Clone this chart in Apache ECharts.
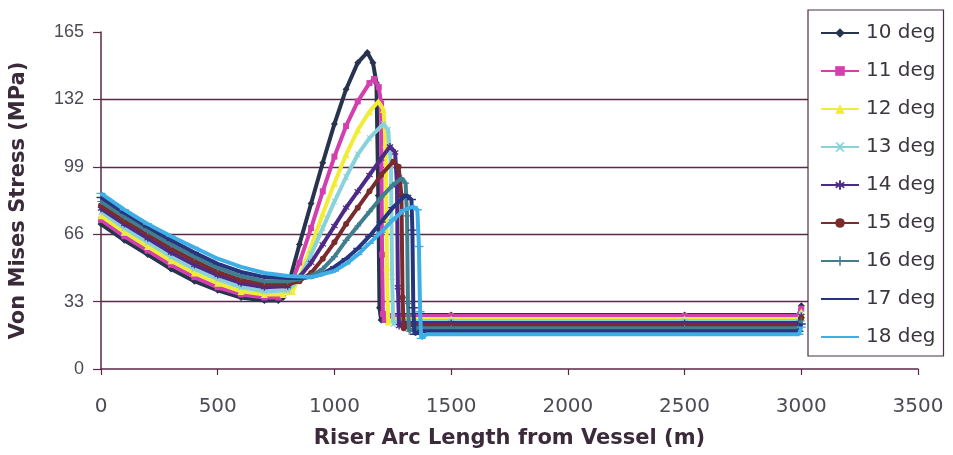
<!DOCTYPE html>
<html>
<head>
<meta charset="utf-8">
<script src="https://cdn.jsdelivr.net/npm/echarts@6/dist/echarts.min.js"></script>
<style>
html,body{margin:0;padding:0;background:#fff;}
#c{width:953px;height:455px;}
</style>
</head>
<body>
<div id="c"></div>
<script>
// ---- data (arc length m, von Mises stress MPa) ----
const seriesNames = ['10 deg','11 deg','12 deg','13 deg','14 deg','15 deg','16 deg','17 deg','18 deg'];
const xTicks = [0,500,1000,1500,2000,2500,3000,3500];
const yTicks = [0,33,66,99,132,165];

const deg10 = [[0,71],[100,63],[200,56],[300,49],[400,43],[500,38.5],[600,35],[700,33.5],[760,33.5],[780,35],[800,40],[850,61],[900,81],[950,101],[1000,120],[1050,137],[1100,150],[1141,155],[1165,150],[1180,140],[1188,85],[1193,30],[1200,24],[1230,26.5],[1500,26.5],[2500,26.5],[2990,26.5],[3000,31]];
const deg11 = [[0,73],[100,65],[200,58],[300,51],[400,45],[500,40],[600,36.5],[700,35],[760,35],[800,38],[850,52],[900,69],[950,87],[1000,104],[1050,119],[1100,131],[1150,140],[1170,142],[1190,138],[1200,130],[1204,56],[1208,27],[1215,24],[1240,26],[1500,26],[2500,26],[2990,26],[3000,29.5]];
const deg12 = [[0,75],[100,67],[200,60],[300,53],[400,47],[500,42],[600,38],[700,36.5],[780,36.5],[820,38],[850,45],[900,60],[950,76],[1000,91],[1050,105],[1100,117],[1150,126],[1188,131],[1210,127],[1220,110],[1225,50],[1230,23],[1255,24.5],[1500,24.5],[2500,24.5],[2990,24.5],[3000,28]];
const deg13 = [[0,77],[100,69],[200,62],[300,55],[400,49],[500,44],[600,40],[700,38],[800,38.5],[850,44],[900,56],[950,69],[1000,82],[1050,94],[1100,105],[1150,113],[1210,120],[1230,117],[1242,100],[1247,45],[1252,22],[1275,23.5],[1500,23.5],[2500,23.5],[2990,23.5],[3000,27]];
const deg14 = [[0,78.5],[100,71],[200,64],[300,57],[400,51],[500,46],[600,42],[700,40],[800,40.5],[850,45],[900,52],[950,61],[1000,70],[1050,79],[1100,87],[1150,95],[1200,103],[1238,109],[1260,106],[1268,90],[1272,40],[1277,21],[1300,22.5],[1500,22.5],[2500,22.5],[2990,22.5],[3000,26]];
const deg15 = [[0,80],[100,72.5],[200,66],[300,59],[400,53],[500,47.5],[600,43.5],[700,41.5],[800,41.5],[850,43],[900,47],[950,54],[1000,62],[1050,71],[1100,79],[1150,87],[1200,95],[1252,101.5],[1275,99],[1287,85],[1292,35],[1297,20],[1320,21.5],[1500,21.5],[2500,21.5],[2990,21.5],[3000,25]];
const deg16 = [[0,82],[100,74.5],[200,67.5],[300,61],[400,55],[500,49.5],[600,45.5],[700,43],[800,43],[850,44],[900,45.5],[950,49],[1000,55],[1050,63],[1100,70],[1150,77],[1200,84],[1250,90],[1288,93.4],[1305,91],[1311,75],[1315,32],[1320,18.5],[1345,20],[1500,20],[2500,20],[2990,20],[3000,23.5]];
const deg17 = [[0,84],[100,76.5],[200,69.5],[300,63],[400,57],[500,51.5],[600,47.5],[700,45],[800,44.5],[850,44.5],[900,45],[950,46.5],[1000,50],[1050,54],[1100,59],[1150,65],[1200,72],[1250,79],[1300,84.5],[1310,85],[1330,83],[1334,68],[1338,30],[1343,17],[1365,18.5],[1500,18.5],[2500,18.5],[2990,18.5],[3000,22]];
const deg18 = [[0,86],[100,78],[200,71],[300,65],[400,59.5],[500,54],[600,50],[700,47],[800,45.5],[900,45],[1000,48],[1050,51.5],[1100,56],[1150,61.5],[1200,67],[1250,73],[1300,78],[1338,79.5],[1355,78],[1362,60],[1367,28],[1372,15],[1395,17],[1500,17],[2500,17],[2990,17],[3000,20.5]];

const allData = [deg10,deg11,deg12,deg13,deg14,deg15,deg16,deg17,deg18];
const colors = ['#28344e','#d23fae','#f1ec37','#88d2dc','#4e2a88','#7b2b2e','#3f7f90','#27357f','#3eaee6'];
const dash = 'path://M0,0L0.01,0M0,4.2H10V5.8H0ZM10,10L10.01,10';
const symbols = [
  'diamond','rect','triangle',
  'path://M0,0L2,0L5,3L8,0L10,0L6,5L10,10L8,10L5,7L2,10L0,10L4,5Z',
  'path://M4,0H6V3.5L9,1.5L10,3L7,5L10,7L9,8.5L6,6.5V10H4V6.5L1,8.5L0,7L3,5L0,3L1,1.5L4,3.5Z',
  'circle',
  'path://M4.2,0H5.8V4.2H10V5.8H5.8V10H4.2V5.8H0V4.2H4.2Z',
  dash, dash
];
const symSizes = [7,6,7,6,7,6,7,9,9];

const series = allData.map((d,i)=>({
  name: seriesNames[i],
  type: 'line',
  data: d,
  showAllSymbol: true,
  symbol: symbols[i],
  symbolSize: symSizes[i],
  lineStyle: {color: colors[i], width: 4},
  itemStyle: {color: colors[i], borderWidth: 0},
  z: 2 + i,
  animation: false,
  emphasis: {disabled: true}
}));

const axisColor = '#5a2848';
const tickFont = 'Liberation Sans, Arial, sans-serif';
const wideFont = 'DejaVu Sans, Verdana, sans-serif';
const chart = echarts.init(document.getElementById('c'), null, {renderer:'canvas'});
chart.setOption({
  backgroundColor: '#ffffff',
  animation: false,
  grid: {left: 101, right: 35, top: 32, bottom: 86, containLabel: false},
  xAxis: {
    type: 'value', min: xTicks[0], max: xTicks[xTicks.length-1], interval: 500,
    name: 'Riser Arc Length from Vessel (m)', nameLocation: 'middle', nameGap: 59,
    nameTextStyle: {fontFamily: wideFont, fontSize: 21, fontWeight: 'bold', color: '#3a2a3a'},
    axisLine: {show: true, onZero: false, lineStyle: {color: axisColor, width: 1.5}},
    axisTick: {show: true, length: 6, lineStyle: {color: axisColor, width: 1.2}},
    axisLabel: {fontFamily: wideFont, fontSize: 20, color: '#4d4a55', margin: 28, formatter: v => String(v)},
    splitLine: {show: false}
  },
  yAxis: {
    type: 'value', min: yTicks[0], max: yTicks[yTicks.length-1], interval: 33,
    name: 'Von Mises Stress (MPa)', nameLocation: 'middle', nameGap: 72,
    nameTextStyle: {fontFamily: wideFont, fontSize: 21, fontWeight: 'bold', color: '#3a2a3a'},
    axisLine: {show: true, lineStyle: {color: axisColor, width: 1.5}},
    axisTick: {show: true, length: 8, lineStyle: {color: axisColor, width: 1.2}},
    axisLabel: {fontFamily: tickFont, fontSize: 18, color: '#4d4a55', margin: 17},
    splitLine: {show: true, lineStyle: {color: axisColor, width: 1.3}, showMinLine: false, showMaxLine: false}
  },
  legend: {
    orient: 'vertical', left: 808, top: 10,
    backgroundColor: '#ffffff', borderColor: '#4a3048', borderWidth: 1.2,
    padding: [13, 8, 9, 12],
    itemWidth: 38, itemHeight: 12, itemGap: 18,
    textStyle: {fontFamily: wideFont, fontSize: 20, color: '#3c3640', padding: [0,0,0,2]},
    data: seriesNames,
    z: 10
  },
  series: series
});
</script>
</body>
</html>
